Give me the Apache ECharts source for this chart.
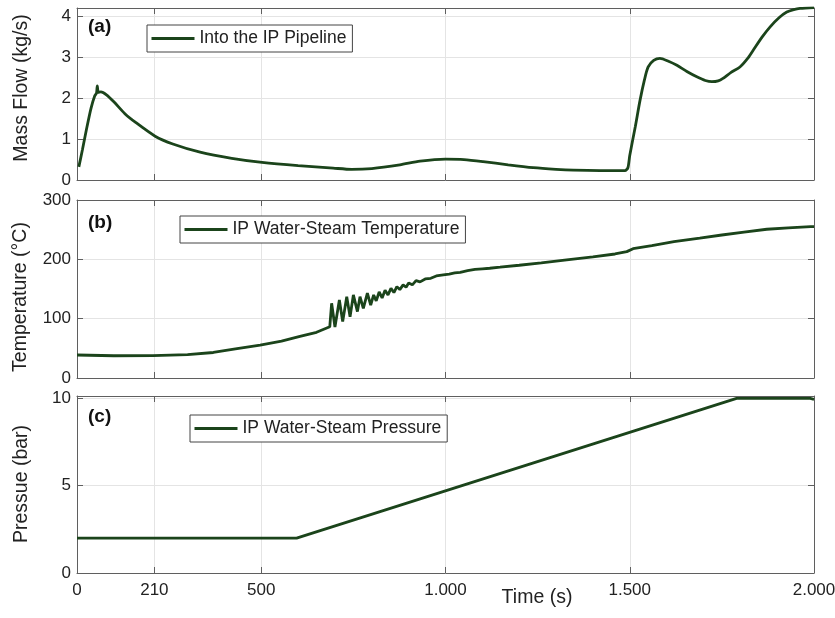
<!DOCTYPE html>
<html><head><meta charset="utf-8">
<script src="https://cdn.jsdelivr.net/npm/echarts@6/dist/echarts.min.js"></script>
<style>html,body{margin:0;padding:0;background:#fff}#c{width:835px;height:618px}</style>
</head><body><div id="c"></div>
<script>
// ---- tick labels ----
const timeTicks = [0, 210, 500, 1000, 1500, 2000];
const massTicks = [0, 1, 2, 3, 4];
const tempTicks = [0, 100, 200, 300];
const presTicks = [0, 5, 10];

// ---- series names ----
const seriesNames = ['Into the IP Pipeline', 'IP Water-Steam Temperature', 'IP Water-Steam Pressure'];
const panelLabels = ['(a)', '(b)', '(c)'];
const axisTitles = ['Mass Flow (kg/s)', 'Temperature (°C)', 'Pressue (bar)'];
const xTitle = 'Time (s)';

// ---- (a) mass flow ----
const massT = [5, 15, 26, 38, 48, 53, 55, 58, 65, 80, 100, 130, 160, 212, 260, 334, 420, 502, 600, 695, 745, 800, 876, 931, 1000, 1050, 1102, 1170, 1238, 1300, 1347, 1420, 1487, 1495, 1500, 1515, 1528, 1540, 1550, 1565, 1582, 1605, 1628, 1655, 1682, 1705, 1723, 1740, 1753, 1775, 1799, 1820, 1835, 1860, 1881, 1905, 1926, 1945, 1962, 2000];
const massV = [0.32, 0.75, 1.25, 1.75, 2.05, 2.12, 2.3, 2.14, 2.15, 2.08, 1.91, 1.62, 1.4, 1.07, 0.88, 0.68, 0.53, 0.43, 0.35, 0.29, 0.26, 0.28, 0.37, 0.46, 0.51, 0.5, 0.45, 0.37, 0.3, 0.26, 0.24, 0.23, 0.23, 0.3, 0.6, 1.3, 1.95, 2.45, 2.76, 2.92, 2.97, 2.9, 2.8, 2.65, 2.52, 2.43, 2.4, 2.42, 2.48, 2.63, 2.76, 2.97, 3.17, 3.5, 3.74, 3.96, 4.1, 4.16, 4.19, 4.21];

// ---- (b) temperature ----
const tempT = [0, 100, 206, 300, 370, 430, 497, 555, 605, 650, 686, 689, 691, 700, 712, 721, 732, 741, 750, 761, 768, 777, 788, 797, 805, 812, 820, 828, 836, 844, 852, 860, 868, 876, 885, 893, 900, 910, 920, 931, 945, 960, 975, 994, 1010, 1025, 1040, 1060, 1080, 1100, 1120, 1148, 1200, 1260, 1329, 1400, 1460, 1492, 1509, 1560, 1620, 1690, 1750, 1810, 1872, 1930, 1991, 2000];
const tempV = [38.8, 37.5, 37.6, 39.5, 43, 49, 55.6, 62, 70, 77, 86.5, 88, 126, 86, 131.5, 95, 137, 103, 140, 112, 137, 117.5, 143, 123, 140, 130, 145, 135, 148, 140, 151, 144, 154, 149, 157, 153, 160, 157, 164, 162, 167, 168, 172, 173.7, 175, 177, 178, 181, 183, 184, 185, 186.7, 190, 194, 199, 204, 209, 213, 218, 223, 230, 235.6, 241, 246, 250.7, 253, 255, 255];

// ---- (c) pressure ----
const presT = [0, 596, 1790, 1990, 2000];
const presV = [2, 2, 10, 10, 9.95];

const FONT = "'Liberation Sans', Arial, Helvetica, sans-serif";
const LINE_COLOR = '#1b441b';
const AXIS_COLOR = '#5f5f5f';
const TEXT_COLOR = '#222';

const grids = [
  {left: 77, top: 8, width: 737, height: 172, outerBoundsMode: 'none', containLabel: false},
  {left: 77, top: 200, width: 737, height: 178, outerBoundsMode: 'none', containLabel: false},
  {left: 77, top: 396, width: 737, height: 177, outerBoundsMode: 'none', containLabel: false}
];
const yRanges = [[0, 4.2, massTicks], [0, 300, tempTicks], [0, 10.14, presTicks]];
const dataSets = [[massT, massV], [tempT, tempV], [presT, presV]];
const smoothing = [0.25, false, false];
const legendPos = [[147, 25], [180, 216], [190, 415]];
const labelPos = [[88, 27], [88, 223], [88, 417]];
const titlePos = [[22, 88], [21, 297], [22, 484]];

function fmtTime(v) {
  if (v >= 1000) { const s = String(v); return s.slice(0, -3) + '.' + s.slice(-3); }
  return String(v);
}

const xAxes = [], yAxes = [], series = [], legends = [], graphics = [];
grids.forEach((g, i) => {
  const last = i === grids.length - 1;
  xAxes.push({
    type: 'value', gridIndex: i, min: 0, max: 2000, position: 'bottom',
    axisLine: {show: true, onZero: false, lineStyle: {color: AXIS_COLOR, width: 1}},
    axisTick: {show: true, inside: true, length: 6, customValues: timeTicks, lineStyle: {color: AXIS_COLOR}},
    axisLabel: {show: last, customValues: timeTicks, formatter: fmtTime, margin: 9, fontSize: 17, color: TEXT_COLOR, fontFamily: FONT},
    splitLine: {show: true, lineStyle: {color: '#e4e4e4', width: 1}}
  });
  xAxes.push({
    type: 'value', gridIndex: i, min: 0, max: 2000, position: 'top',
    axisLine: {show: true, onZero: false, lineStyle: {color: AXIS_COLOR, width: 1}},
    axisTick: {show: true, inside: true, length: 6, customValues: timeTicks, lineStyle: {color: AXIS_COLOR}},
    axisLabel: {show: false}, splitLine: {show: false}
  });
  const [ymin, ymax, yt] = yRanges[i];
  yAxes.push({
    type: 'value', gridIndex: i, min: ymin, max: ymax, position: 'left',
    axisLine: {show: true, onZero: false, lineStyle: {color: AXIS_COLOR, width: 1}},
    axisTick: {show: true, inside: true, length: 6, customValues: yt, lineStyle: {color: AXIS_COLOR}},
    axisLabel: {show: true, customValues: yt, margin: 6, fontSize: 17, color: TEXT_COLOR, fontFamily: FONT},
    splitLine: {show: true, lineStyle: {color: '#e4e4e4', width: 1}}
  });
  yAxes.push({
    type: 'value', gridIndex: i, min: ymin, max: ymax, position: 'right',
    axisLine: {show: true, onZero: false, lineStyle: {color: AXIS_COLOR, width: 1}},
    axisTick: {show: true, inside: true, length: 6, customValues: yt, lineStyle: {color: AXIS_COLOR}},
    axisLabel: {show: false}, splitLine: {show: false}
  });
  const [ts, vs] = dataSets[i];
  series.push({
    name: seriesNames[i], type: 'line', xAxisIndex: 2 * i, yAxisIndex: 2 * i,
    data: ts.map((t, k) => [t, vs[k]]),
    showSymbol: false, symbol: 'none', smooth: smoothing[i],
    lineStyle: {color: LINE_COLOR, width: 2.8}, itemStyle: {color: LINE_COLOR},
    animation: false
  });
  legends.push({
    data: [seriesNames[i]], left: legendPos[i][0], top: legendPos[i][1],
    orient: 'horizontal', icon: 'rect', itemWidth: 43, itemHeight: 3,
    padding: [4.5, 6, 4.5, 4.5], borderColor: '#444', borderWidth: 1, borderRadius: 0,
    backgroundColor: '#fff', selectedMode: false,
    textStyle: {fontSize: 17.5, color: TEXT_COLOR, fontFamily: FONT}
  });
  graphics.push({
    type: 'text', x: labelPos[i][0], y: labelPos[i][1], z: 10,
    style: {text: panelLabels[i], font: 'bold 19px ' + FONT, fill: '#111', align: 'left', verticalAlign: 'middle'}
  });
  graphics.push({
    type: 'text', x: titlePos[i][0], y: titlePos[i][1], rotation: Math.PI / 2, z: 10,
    style: {text: axisTitles[i], font: '19.5px ' + FONT, fill: TEXT_COLOR, align: 'center', verticalAlign: 'middle'}
  });
});
graphics.push({
  type: 'text', x: 537, y: 598, z: 10,
  style: {text: xTitle, font: '19.5px ' + FONT, fill: TEXT_COLOR, align: 'center', verticalAlign: 'middle'}
});

const chart = echarts.init(document.getElementById('c'), null, {renderer: 'canvas'});
chart.setOption({
  animation: false,
  backgroundColor: '#fff',
  grid: grids,
  xAxis: xAxes,
  yAxis: yAxes,
  series: series,
  legend: legends,
  graphic: graphics
});
</script>
</body></html>
